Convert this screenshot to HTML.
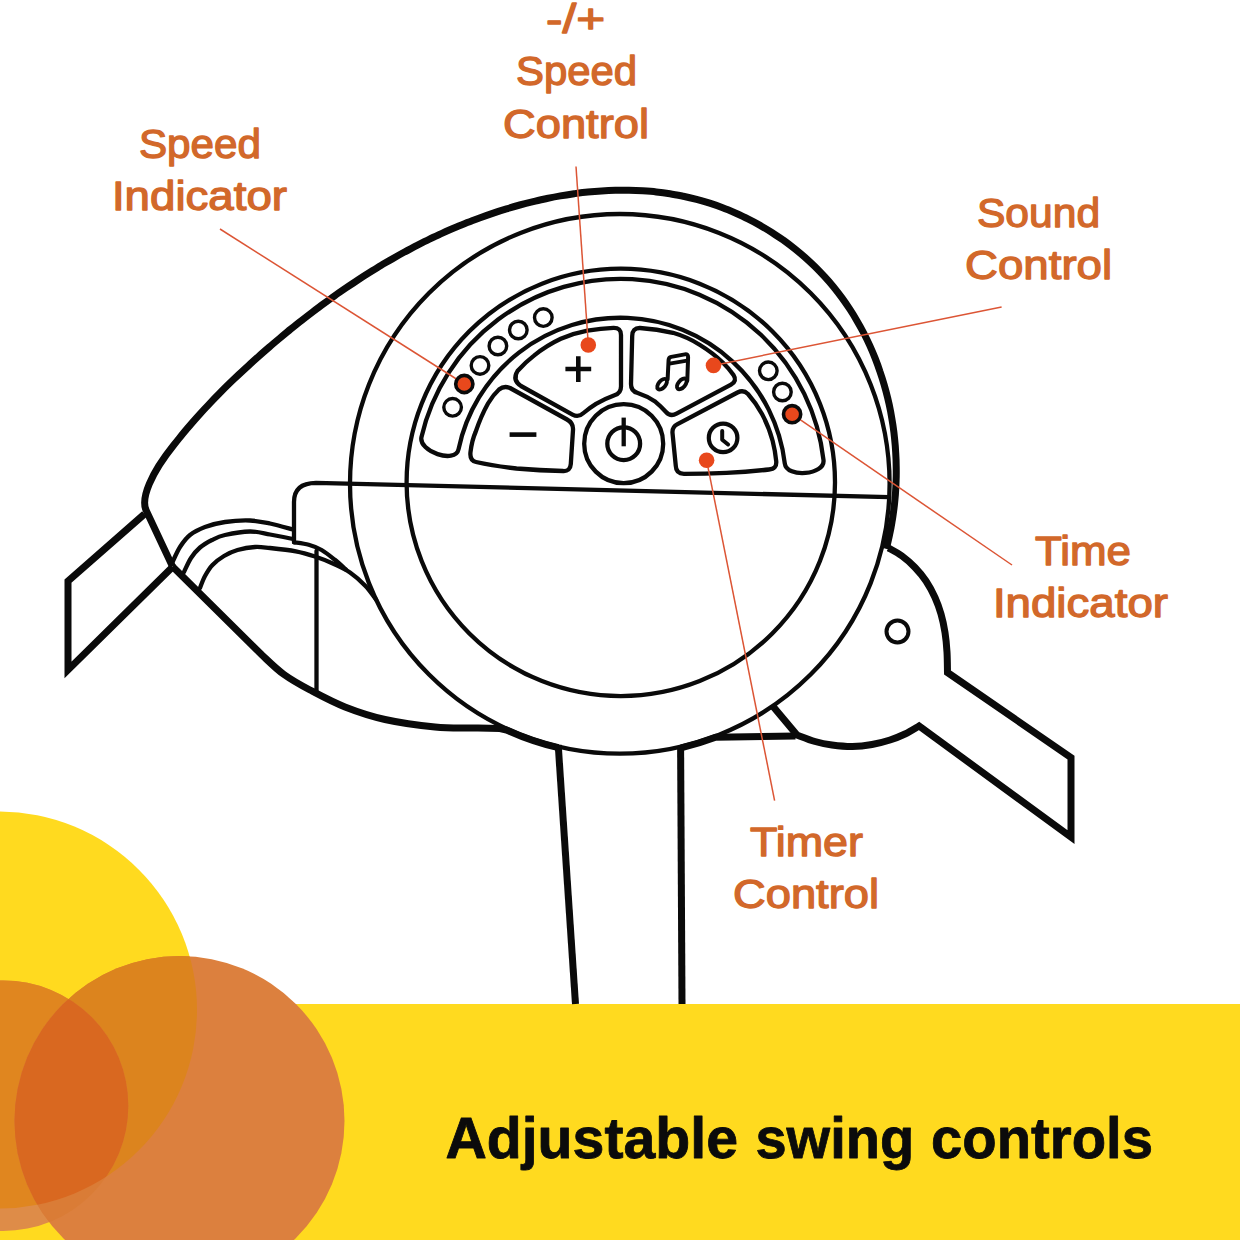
<!DOCTYPE html>
<html lang="en">
<head>
<meta charset="utf-8">
<title>Adjustable swing controls</title>
<style>html,body{margin:0;padding:0;background:#fff;}body{width:1240px;height:1240px;overflow:hidden;}svg{display:block;}</style>
</head>
<body>
<svg width="1240" height="1240" viewBox="0 0 1240 1240">
<rect x="0" y="1004" width="1240" height="236" fill="#ffda1f"/>
<defs><clipPath id="cy"><circle cx="-1.5" cy="1010" r="198.5" fill="#000"/></clipPath><clipPath id="cb"><circle cx="179.5" cy="1121" r="165" fill="#000"/></clipPath></defs>
<circle cx="-1.5" cy="1010" r="198.5" fill="#ffda1f"/>
<circle cx="3" cy="1105.7" r="125.3" fill="#de8c48"/>
<circle cx="3" cy="1105.7" r="125.3" fill="#e0861f" clip-path="url(#cy)"/>
<circle cx="179.5" cy="1121" r="165" fill="#dc803e"/>
<circle cx="179.5" cy="1121" r="165" fill="#dc841e" clip-path="url(#cy)"/>
<g clip-path="url(#cb)"><circle cx="3" cy="1105.7" r="125.3" fill="#da7c36"/><circle cx="3" cy="1105.7" r="125.3" fill="#d96820" clip-path="url(#cy)"/></g>
<g fill="none" stroke="#0a0a0a" stroke-width="4.3" stroke-linecap="round" stroke-linejoin="round">
<circle cx="619.8" cy="483.8" r="269.8"/>
<ellipse cx="620.8" cy="482.4" rx="214.2" ry="213.7"/>
<path d="M294,542 L294,502 Q294,483 316,482.8 L889,497.2"/>
<path d="M294,542.3 C296.4,542.7 304.1,543.5 308.7,544.8 C313.3,546.1 317.3,547.5 321.6,550 C325.9,552.5 330.4,556.2 334.5,559.5 C338.6,562.8 344.1,567.9 346,569.6"/>
<path d="M172.5,562 C173.8,559.5 177.1,551.5 180,547 C182.9,542.5 185.8,538.3 190,535 C194.2,531.7 199.2,529.2 205,527 C210.8,524.8 217.5,523.1 225,522 C232.5,520.9 242.5,520.2 250,520.5 C257.5,520.8 262.8,522 270,523.5 C277.2,525 289.2,528.5 293,529.5"/>
<path d="M184,572 C185.2,569.7 188.3,562.1 191,558 C193.7,553.9 196.5,550.5 200,547.5 C203.5,544.5 207.8,542.1 212,540 C216.2,537.9 218.7,536.4 225,535 C231.3,533.6 242.5,531.6 250,531.5 C257.5,531.4 262.8,533.2 270,534.5 C277.2,535.8 289.2,538.2 293,539"/>
<path d="M200,588 C200.8,586 202.9,579.8 205,576 C207.1,572.2 209.3,568.3 212.5,565 C215.7,561.7 219.8,558.5 224,556 C228.2,553.5 232.3,551.5 237.5,550 C242.7,548.5 249.6,547.3 255,547 C260.4,546.7 263.2,547.3 270,548 C276.8,548.7 288.3,549.9 295.8,551.3 C303.3,552.7 308.6,554.4 315,556.5 C321.4,558.6 328.7,561.5 334.5,564.2 C340.3,566.9 344.8,568.9 350,572.5 C355.2,576.1 361.2,581.5 365.5,586 C369.8,590.5 374.2,597.2 376,599.5"/>
<path d="M316.5,551 L316.5,692"/>
<circle cx="897.5" cy="631.5" r="11" stroke-width="4"/>
<path d="M421.5,436.9 A204.3,204.3 0 0 1 823.5,460.1 C825.2,475 786.6,478.3 784.8,463.4 A165.5,165.5 0 0 0 458.5,449.4 C455.4,464.1 418.1,451.5 421.5,436.9 Z"/>
<path d="M470.5,452 Q472,440 475.6,432 Q481,416 488,403.5 Q493,395 499,389.5 Q504,385.5 510,388 L567,419.5 Q573.5,423 573,430 L570.8,464 Q570.3,471.5 563,471 Q540,470.5 516.5,468.5 Q494,466 476,462 Q469.5,460.5 470.5,452 Z"/>
<path d="M517.5,371 Q525,362.5 534,355.6 Q546.5,345.5 560.8,338.8 Q574,333 587.4,330.6 Q601,328.3 613.5,327.8 Q621,327.6 621,335 L621,386.5 Q621,393.2 614.5,395.3 Q604.5,399 596,403.8 Q589.5,407.8 583.5,413 Q578.5,417.8 572.5,414.6 L521,386 Q512,380 517.5,371 Z"/>
<path d="M632.2,336 Q632.2,327.8 640,328 Q657,329 673,332.8 Q687.5,337 700,345 Q713,353 723,362.7 Q729,368.5 733.5,375 Q737.5,381 731,384.6 L676.5,413.6 Q670.5,417 666,412 Q661,406.3 655.5,401.8 Q647.5,396.2 637.7,393 Q630.8,391 631,384 Z"/>
<path d="M672.5,433 Q672,427 677.5,424.2 L737.5,392.5 Q743.5,389.5 748,394 Q756,403 762,414 Q769,427 772.6,440.8 Q775.2,451 776.2,461 Q777,469 769,469.5 Q748,471.8 726.5,472.8 Q705,473.8 684,473.8 Q676,473.8 675.8,466 Z"/>
<circle cx="623.7" cy="443.7" r="39.5"/>
<circle cx="623.7" cy="443.7" r="16.4"/>
<path d="M623.7,417.6 L623.7,446.3" stroke-width="4.3" stroke-linecap="butt"/>
<circle cx="452.6" cy="407.3" r="8.8" stroke-width="3.4"/>
<circle cx="480" cy="365.4" r="8.8" stroke-width="3.4"/>
<circle cx="497.9" cy="346" r="8.8" stroke-width="3.4"/>
<circle cx="518.3" cy="330" r="8.8" stroke-width="3.4"/>
<circle cx="543.3" cy="317.6" r="8.8" stroke-width="3.4"/>
<circle cx="768.3" cy="370.8" r="8.8" stroke-width="3.4"/>
<circle cx="782.4" cy="392" r="8.8" stroke-width="3.4"/>
<path d="M565.4,369 L591.2,369 M578.3,356.2 L578.3,382" stroke-width="4.6" stroke-linecap="butt"/>
<path d="M509.6,434.6 L536.4,434.6" stroke-width="4.6" stroke-linecap="butt"/>
<circle cx="723.1" cy="437.9" r="14.3" stroke-width="4.2"/>
<path d="M722.2,431.1 L722.2,439.7 L728.1,444.5" stroke-width="4" stroke-linejoin="round"/>
<ellipse cx="662.1" cy="384.2" rx="6.3" ry="3.5" transform="rotate(-50 662.1 384.2)" stroke-width="3.9"/>
<ellipse cx="681.8" cy="383.9" rx="6.3" ry="3.5" transform="rotate(-50 681.8 383.9)" stroke-width="3.9"/>
<path d="M667.6,379.3 L668.6,359.8 Q668.8,357.4 671.2,356.9 L684.8,354.4 Q688.2,353.8 688.1,357.2 L687.3,380.8" stroke-width="4" stroke-linejoin="round"/>
<path d="M669.4,363.6 L687,360.7" stroke-width="3.8" stroke-linecap="butt"/>
</g>
<g fill="none" stroke="#0a0a0a" stroke-width="7.0" stroke-linecap="butt" stroke-linejoin="miter" stroke-miterlimit="10">
<path d="M172.5,566.5 L146.2,510.5 C140.5,498.3 151,473.4 173.8,445 C176.5,441.7 179.5,437.9 182.4,434.3 C185.3,430.8 188.2,427.3 191.2,423.9 C194.2,420.4 197.2,417 200.3,413.6 C203.3,410.3 206.4,406.9 209.6,403.6 C212.7,400.3 215.9,397 219.1,393.8 C222.3,390.5 225.5,387.3 228.8,384.1 C232.1,380.9 235.4,377.8 238.7,374.6 C242,371.5 245.4,368.4 248.8,365.3 C252.1,362.2 255.6,359.1 259,356.1 C262.4,353 265.9,350 269.4,347 C272.8,344 276.4,341 279.9,338.1 C283.4,335.1 287,332.2 290.5,329.3 C294.1,326.4 297.7,323.5 301.3,320.7 C305,317.8 308.6,315 312.3,312.2 C316,309.4 319.7,306.6 323.4,303.9 C327.1,301.2 330.8,298.5 334.6,295.8 C338.4,293.1 342.2,290.5 346,287.9 C349.8,285.3 353.6,282.7 357.5,280.2 C361.3,277.7 365.2,275.2 369.1,272.8 C373,270.3 377,267.9 380.9,265.5 C384.9,263.2 388.8,260.8 392.8,258.6 C396.8,256.3 400.9,254 404.9,251.8 C409,249.7 413,247.5 417.1,245.4 C421.2,243.3 425.3,241.2 429.5,239.2 C433.6,237.2 437.8,235.3 441.9,233.4 C446.1,231.5 450.3,229.6 454.6,227.8 C458.8,226 463.1,224.3 467.3,222.6 C471.6,220.9 475.9,219.3 480.2,217.7 C484.6,216.1 488.9,214.6 493.3,213.1 C497.7,211.6 502.1,210.2 506.5,208.9 C510.9,207.5 515.3,206.2 519.8,205 C524.3,203.8 528.7,202.7 533.2,201.6 C537.7,200.5 542.3,199.5 546.8,198.5 C551.3,197.6 555.9,196.7 560.4,195.9 C565,195.1 569.5,194.4 574.1,193.7 C578.7,193.1 583.2,192.5 587.8,192.1 C592.4,191.6 597,191.2 601.6,190.9 C606.2,190.6 610.7,190.4 615.3,190.3 C619.9,190.2 624.5,190.2 629,190.2 C633.6,190.3 638.2,190.5 642.7,190.8 C647.3,191.1 651.8,191.4 656.3,191.9 C660.9,192.4 665.4,193 669.9,193.7 C674.4,194.4 678.8,195.3 683.3,196.2 C687.7,197.1 692.2,198.2 696.6,199.4 C701,200.5 705.4,201.8 709.7,203.2 C714.1,204.6 718.4,206.1 722.7,207.8 C727,209.4 731.2,211.2 735.4,213 C739.6,214.9 743.8,216.8 747.9,218.9 C752,220.9 756.1,223.1 760.1,225.4 C764.1,227.7 768,230 771.9,232.5 C775.8,235 779.6,237.6 783.4,240.2 C787.1,242.9 790.8,245.7 794.4,248.5 C798,251.4 801.5,254.3 805,257.4 C808.4,260.4 811.8,263.6 815.1,266.8 C818.3,270 821.5,273.3 824.6,276.7 C827.7,280 830.7,283.5 833.6,287 C836.5,290.6 839.3,294.2 842,297.9 C844.7,301.6 847.3,305.4 849.8,309.2 C852.3,313 854.7,316.9 857,320.9 C859.4,324.9 861.6,328.9 863.7,333 C865.8,337.1 867.8,341.2 869.7,345.4 C871.6,349.6 873.4,353.8 875.1,358.1 C876.8,362.4 878.4,366.7 879.8,371.1 C881.3,375.4 882.7,379.8 884,384.3 C885.3,388.7 886.5,393.2 887.6,397.7 C888.7,402.2 889.7,406.7 890.6,411.3 C891.4,415.8 892.2,420.4 892.9,425 C893.6,429.6 894.2,434.2 894.6,438.8 C895.1,443.4 895.5,448.1 895.7,452.7 C896,457.3 896.2,462 896.2,466.6 C896.3,471.2 896.3,475.9 896.1,480.5 C896,485.1 895.7,489.8 895.4,494.4 C895,499 894.6,503.6 894,508.2 C893.4,512.8 892.8,517.4 892,521.9 C891.3,526.5 890.4,531 889.4,535.5 C888.5,540 886.8,546.7 886.3,548.9"/>
<path d="M172.5,566.5 L262,655 C269.3,661.9 276,668.7 284,674.5 C292,680.3 299.8,684.6 310,690 C320.2,695.4 332.5,702.1 345,707 C357.5,711.9 370,716.2 385,719.5 C400,722.8 420.5,725.6 435,727 C449.5,728.4 461.2,727.8 472,728 C482.8,728.2 495.3,728.4 500,728.5 L506.5,730 A271,271 0 0 0 558.3,747.7" stroke-linejoin="round"/>
<path d="M681,747.8 A271,271 0 0 0 715.6,737.3 L795.5,736" stroke-linejoin="round"/>
<path d="M773.5,707 L797,735 C800,736.1 809.2,739.8 815,741.5 C820.8,743.2 825.8,744.2 832,745 C838.2,745.8 845.8,746.6 852.5,746.5 C859.2,746.4 865.8,745.6 872,744.5 C878.2,743.4 884.5,741.8 890,740 C895.5,738.2 900.2,736.3 905,734 C909.8,731.7 916.7,727.3 919,726 L1071,837 L1071,757.5 L947.5,672.5 C947.4,669.1 947.4,658.7 947,652 C946.6,645.3 946,638.8 945,632.5 C944,626.2 942.7,619.8 941,614 C939.3,608.2 937.5,603 935,597.5 C932.5,592 929.3,586 926,581 C922.7,576 919,571.7 915,567.5 C911,563.3 906.4,559.2 902,556 C897.6,552.8 890.8,549.3 888.5,548"/>
<path d="M144.5,514 L68,581 L68,670 L172.5,567"/>
<path d="M558.2,745 L575.5,1004" stroke-width="7"/>
<path d="M680.6,747 L682,1004" stroke-width="7"/>
</g>
<g stroke="#dc5535" stroke-width="1.5" fill="none">
<path d="M220,229 L464.3,384"/>
<path d="M576,166.5 L588.3,345"/>
<path d="M1001.6,307 L713.5,365.4"/>
<path d="M1012,565 L792.1,414.2"/>
<path d="M774.6,800.6 L706.6,460.3"/>
</g>
<g fill="#e8481c">
<circle cx="588.3" cy="345" r="7.8"/>
<circle cx="713.5" cy="365.4" r="7.8"/>
<circle cx="706.6" cy="460.3" r="7.8"/>
<circle cx="464.3" cy="384" r="8.6" stroke="#0a0a0a" stroke-width="3.6"/>
<circle cx="792.1" cy="414.2" r="8.6" stroke="#0a0a0a" stroke-width="3.6"/>
</g>
<g font-family="'Liberation Sans', sans-serif" font-size="40.5" fill="#d2682a" stroke="#d2682a" stroke-width="1.3" stroke-linejoin="round">
<text><tspan x="545.97" y="32.5" textLength="59.21" lengthAdjust="spacingAndGlyphs">-/+</tspan> <tspan x="515.98" y="85.2" textLength="121.08" lengthAdjust="spacingAndGlyphs">Speed</tspan> <tspan x="502.98" y="138.4" textLength="146.12" lengthAdjust="spacingAndGlyphs">Control</tspan></text>
<text><tspan x="138.96" y="157.5" textLength="122.09" lengthAdjust="spacingAndGlyphs">Speed</tspan> <tspan x="111.95" y="210" textLength="175.05" lengthAdjust="spacingAndGlyphs">Indicator</tspan></text>
<text><tspan x="976.94" y="227.1" textLength="123.14" lengthAdjust="spacingAndGlyphs">Sound</tspan> <tspan x="964.98" y="279.4" textLength="147.15" lengthAdjust="spacingAndGlyphs">Control</tspan></text>
<text><tspan x="1034.99" y="564.8" textLength="96.07" lengthAdjust="spacingAndGlyphs">Time</tspan> <tspan x="992.92" y="617.1" textLength="175.08" lengthAdjust="spacingAndGlyphs">Indicator</tspan></text>
<text><tspan x="750.00" y="856.2" textLength="113.00" lengthAdjust="spacingAndGlyphs">Timer</tspan> <tspan x="732.98" y="908" textLength="146.12" lengthAdjust="spacingAndGlyphs">Control</tspan></text>
</g>
<g font-family="'Liberation Sans', sans-serif" font-weight="700" font-size="58" fill="#0b0b0b" stroke="#0b0b0b" stroke-width="0.8" stroke-linejoin="round">
<text><tspan x="445.45" y="1157.5" textLength="292.56" lengthAdjust="spacingAndGlyphs">Adjustable</tspan> <tspan x="755.41" y="1157.5" textLength="158.74" lengthAdjust="spacingAndGlyphs">swing</tspan> <tspan x="930.96" y="1157.5" textLength="222.07" lengthAdjust="spacingAndGlyphs">controls</tspan></text>
</g>
</svg>
</body>
</html>
